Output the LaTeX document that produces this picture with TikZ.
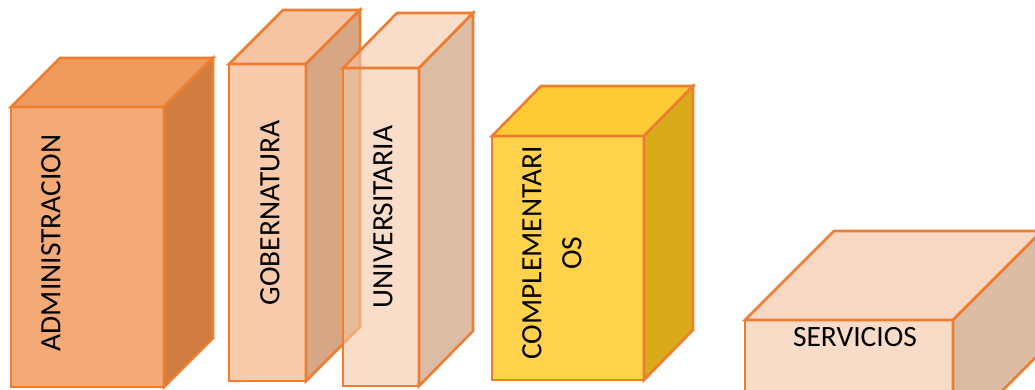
\documentclass[tikz,border=0pt]{standalone}
\usepackage{fontspec}
\setmainfont{Carlito}
\definecolor{boxline}{HTML}{ED7D31}
\definecolor{adminfront}{HTML}{F4AA77}
\definecolor{admintop}{HTML}{F09B5E}
\definecolor{adminside}{HTML}{D17C40}
\definecolor{gobfront}{HTML}{F8CBAD}
\definecolor{gobtop}{HTML}{F5C4A3}
\definecolor{gobside}{HTML}{D6A685}
\definecolor{unifront}{HTML}{F5C6A3}
\definecolor{uniside}{HTML}{C58F69}
\definecolor{compfront}{HTML}{FFD24C}
\definecolor{comptop}{HTML}{FFCB35}
\definecolor{compside}{HTML}{D9AA19}
\definecolor{servfront}{HTML}{F9DCC8}
\definecolor{servtop}{HTML}{F8D8C2}
\definecolor{servside}{HTML}{DCBBA3}
\begin{document}
\begin{tikzpicture}[x=1pt,y=-1pt,
  edge/.style={draw=boxline,line width=2.6pt},
  face/.style={rectangle,inner sep=0pt,outer sep=0pt,edge},
  lbl/.style={font=\fontsize{29.5}{40}\selectfont,text=black,inner sep=0pt,align=center}]
\useasboundingbox (0,0) rectangle (1035,390);
\clip (0,0) rectangle (1035,390);

% ADMINISTRACION block
\node[face,fill=adminfront,minimum width=153pt,minimum height=280pt,anchor=north west] (admin) at (11,107) {};
\draw[edge,fill=admintop] (admin.north west) -- ++(49,-49) -- ++(153,0) -- (admin.north east) -- cycle;
\draw[edge,fill=adminside] (admin.north east) -- ++(49,-49) -- ++(0,280) -- (admin.south east) -- cycle;
\node[lbl,rotate=90] (admin-text) at (51,243) {ADMINISTRACION};

% GOBERNATURA block
\node[face,fill=gobfront,minimum width=77pt,minimum height=317pt,anchor=north west] (gob) at (229,64) {};
\draw[edge,fill=gobtop] (gob.north west) -- ++(54,-54) -- ++(77,0) -- (gob.north east) -- cycle;
\draw[edge,fill=gobside] (gob.north east) -- ++(54,-54) -- ++(0,317) -- (gob.south east) -- cycle;
\node[lbl,rotate=90] (gob-text) at (270,213) {GOBERNATURA};

% UNIVERSITARIA block, translucent over its neighbour
\begin{scope}[fill opacity=0.6]
\node[face,fill=unifront,minimum width=76pt,minimum height=318pt,anchor=north west] (uni) at (343,68) {};
\draw[edge,fill=unifront] (uni.north west) -- ++(54,-55) -- ++(76,0) -- (uni.north east) -- cycle;
\draw[edge,fill=uniside] (uni.north east) -- ++(54,-55) -- ++(0,318) -- (uni.south east) -- cycle;
\end{scope}
\node[lbl,rotate=90] (uni-text) at (383,217) {UNIVERSITARIA};

% COMPLEMENTARIOS block
\node[face,fill=compfront,minimum width=152pt,minimum height=244pt,anchor=north west] (comp) at (492,136) {};
\draw[edge,fill=comptop] (comp.north west) -- ++(49,-50) -- ++(152,0) -- (comp.north east) -- cycle;
\draw[edge,fill=compside] (comp.north east) -- ++(49,-50) -- ++(0,244) -- (comp.south east) -- cycle;
\node[lbl,rotate=90] (comp-text) at (552,253) {COMPLEMENTARI\\OS};

% SERVICIOS block
\node[face,fill=servfront,minimum width=208pt,minimum height=120pt,anchor=north west] (serv) at (745,320) {};
\draw[edge,fill=servtop] (serv.north west) -- ++(89,-89) -- ++(208,0) -- (serv.north east) -- cycle;
\draw[edge,fill=servside] (serv.north east) -- ++(89,-89) -- ++(0,120) -- (serv.south east) -- cycle;
\node[lbl] (serv-text) at (855,337.5) {SERVICIOS};
\end{tikzpicture}
\end{document}
